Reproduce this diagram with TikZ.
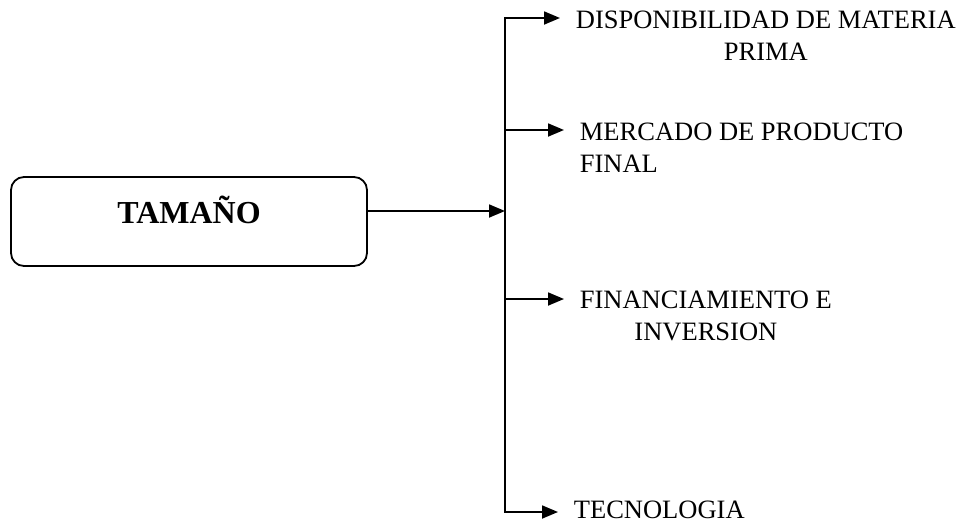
\documentclass[tikz,border=0pt]{standalone}
\usepackage{fontspec}
\setmainfont{Liberation Serif}
\usetikzlibrary{arrows.meta}
\begin{document}
\begin{tikzpicture}[x=1pt,y=-1pt,
  line width=1.8pt,
  arr/.style={-{Triangle[length=16pt,width=13pt]}},
  lbl/.style={inner xsep=15pt,inner ysep=0pt,anchor=north west,
    font=\fontsize{26.5}{32}\selectfont},
  mainbox/.style={draw,rounded corners=13pt,minimum width=356pt,minimum height=89pt,
    inner sep=0pt,font=\fontsize{32}{36}\selectfont\bfseries}]
\useasboundingbox (0,0) rectangle (961,525);
\node[mainbox] (tam) at (189,221.5) {\raisebox{-1.5pt}[0pt][0pt]{TAMAÑO}};
\coordinate (j0) at (505,211);
\coordinate (j1) at (505,18);
\coordinate (j2) at (505,130);
\coordinate (j3) at (505,299);
\coordinate (j4) at (505,512);
\node[lbl,align=center] (d1) at (560,10) {DISPONIBILIDAD DE MATERIA\\PRIMA};
\node[lbl,align=left] (d2) at (564,122) {MERCADO DE PRODUCTO\\FINAL};
\node[lbl,align=center] (d3) at (564,290) {FINANCIAMIENTO E\\INVERSION};
\node[lbl,text depth=0pt] (d4) at (558,500) {TECNOLOGIA};
\draw[{Triangle[length=16pt,width=13pt]}-{Triangle[length=16pt,width=13pt]}]
  (j1 -| d1.west) -- (j1) -- (j4) -- (j4 -| d4.west);
\draw[arr] (tam.east |- j0) -- (j0);
\draw[arr] (j2) -- (j2 -| d2.west);
\draw[arr] (j3) -- (j3 -| d3.west);
\end{tikzpicture}
\end{document}
